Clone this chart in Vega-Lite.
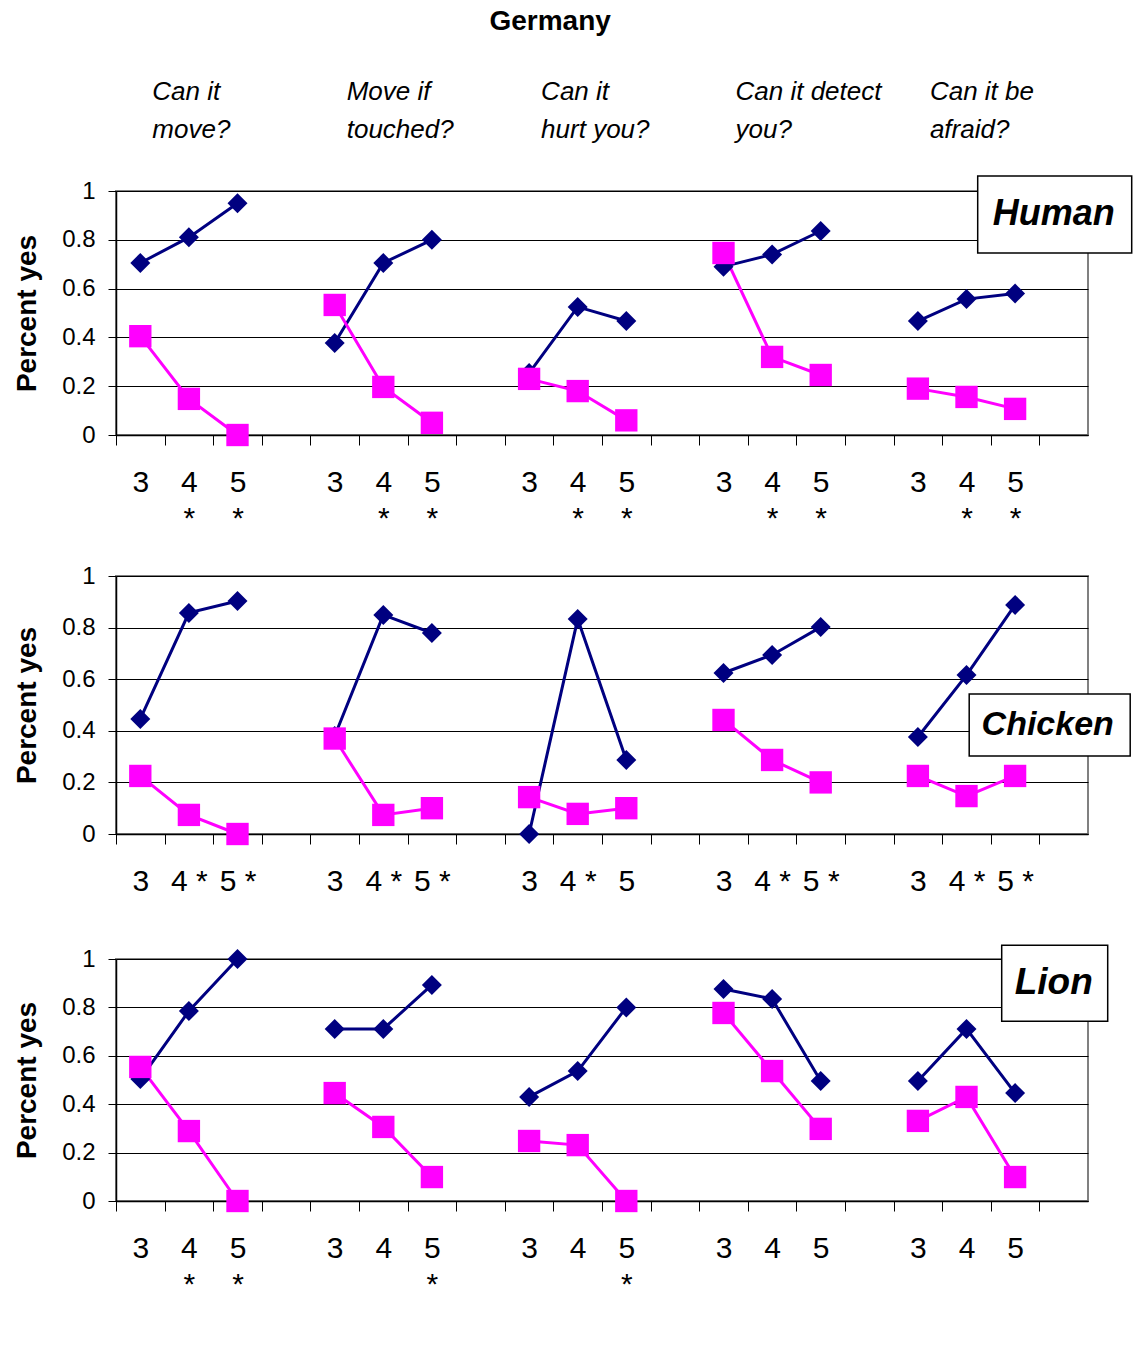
{
  "$schema": "https://vega.github.io/schema/vega-lite/v6.json",
  "padding": {"left": 12, "top": 8, "right": 0, "bottom": 0},
  "title": {"text": "Germany", "fontSize": 28, "font": "Liberation Sans", "fontWeight": "bold", "color": "black", "anchor": "middle", "dx": -24, "offset": 42},
  "bounds": "flush",
  "spacing": 141,
  "config": {
    "font": "Liberation Sans",
    "view": {"stroke": "#808080", "strokeWidth": 2},
    "axisY": {"titleFontSize": 28, "titleFont": "Liberation Sans", "titleFontWeight": "bold", "titleColor": "black", "titlePadding": 20, "labelFontSize": 24, "labelFont": "Liberation Sans", "labelColor": "black", "labelPadding": 13, "tickSize": 8, "tickColor": "black", "domainColor": "black", "domainWidth": 1.5, "gridColor": "black", "gridWidth": 1, "labelFlush": false, "labelOverlap": false},
    "axisX": {"title": null, "labelAngle": 0, "labelFontSize": 30, "labelFont": "Liberation Sans", "labelColor": "black", "labelPadding": 22, "labelLineHeight": 36, "tickOffset": -24.3, "labelOffset": 24.3, "tickSize": 10, "tickColor": "black", "domainColor": "black", "domainWidth": 1.5, "grid": false, "labelBaseline": "top", "labelOverlap": false}
  },
  "vconcat": [
    {
      "width": 972,
      "height": 244,
      "data": {"values": [
        {"slot": "1-3", "q": "1", "series": "Asleep", "value": 0.705},
        {"slot": "1-4*", "q": "1", "series": "Asleep", "value": 0.81},
        {"slot": "1-5*", "q": "1", "series": "Asleep", "value": 0.95},
        {"slot": "2-3", "q": "2", "series": "Asleep", "value": 0.377},
        {"slot": "2-4*", "q": "2", "series": "Asleep", "value": 0.705},
        {"slot": "2-5*", "q": "2", "series": "Asleep", "value": 0.80},
        {"slot": "3-3", "q": "3", "series": "Asleep", "value": 0.254},
        {"slot": "3-4*", "q": "3", "series": "Asleep", "value": 0.525},
        {"slot": "3-5*", "q": "3", "series": "Asleep", "value": 0.467},
        {"slot": "4-3", "q": "4", "series": "Asleep", "value": 0.69},
        {"slot": "4-4*", "q": "4", "series": "Asleep", "value": 0.74},
        {"slot": "4-5*", "q": "4", "series": "Asleep", "value": 0.836},
        {"slot": "5-3", "q": "5", "series": "Asleep", "value": 0.467},
        {"slot": "5-4*", "q": "5", "series": "Asleep", "value": 0.557},
        {"slot": "5-5*", "q": "5", "series": "Asleep", "value": 0.58},
        {"slot": "1-3", "q": "1", "series": "Dead", "value": 0.405},
        {"slot": "1-4*", "q": "1", "series": "Dead", "value": 0.148},
        {"slot": "1-5*", "q": "1", "series": "Dead", "value": 0.0},
        {"slot": "2-3", "q": "2", "series": "Dead", "value": 0.533},
        {"slot": "2-4*", "q": "2", "series": "Dead", "value": 0.197},
        {"slot": "2-5*", "q": "2", "series": "Dead", "value": 0.05},
        {"slot": "3-3", "q": "3", "series": "Dead", "value": 0.23},
        {"slot": "3-4*", "q": "3", "series": "Dead", "value": 0.18},
        {"slot": "3-5*", "q": "3", "series": "Dead", "value": 0.06},
        {"slot": "4-3", "q": "4", "series": "Dead", "value": 0.746},
        {"slot": "4-4*", "q": "4", "series": "Dead", "value": 0.32},
        {"slot": "4-5*", "q": "4", "series": "Dead", "value": 0.246},
        {"slot": "5-3", "q": "5", "series": "Dead", "value": 0.19},
        {"slot": "5-4*", "q": "5", "series": "Dead", "value": 0.156},
        {"slot": "5-5*", "q": "5", "series": "Dead", "value": 0.107}
      ]},
      "layer": [
        {
          "mark": {"type": "line", "strokeWidth": 3},
          "encoding": {
            "x": {"field": "slot", "type": "nominal", "scale": {"domain": ["1-3","1-4*","1-5*","1-","2-3","2-4*","2-5*","2-","3-3","3-4*","3-5*","3-","4-3","4-4*","4-5*","4-","5-3","5-4*","5-5*","5-"], "paddingInner": 0, "paddingOuter": 0}, "axis": {"labelExpr": "length(datum.value) < 3 ? '' : (length(datum.value) > 3 ? [slice(datum.value, 2, 3), '*'] : slice(datum.value, 2))"}},
            "y": {"field": "value", "type": "quantitative", "scale": {"domain": [0, 1]}, "axis": {"values": [0, 0.2, 0.4, 0.6, 0.8, 1], "format": "~g", "title": "Percent yes"}},
            "color": {"field": "series", "type": "nominal", "scale": {"domain": ["Asleep", "Dead"], "range": ["#000080", "#FF00FF"]}, "legend": null},
            "detail": {"field": "q"}
          }
        },
        {
          "mark": {"type": "point", "filled": true, "opacity": 1},
          "encoding": {
            "x": {"field": "slot", "type": "nominal", "scale": {"domain": ["1-3","1-4*","1-5*","1-","2-3","2-4*","2-5*","2-","3-3","3-4*","3-5*","3-","4-3","4-4*","4-5*","4-","5-3","5-4*","5-5*","5-"], "paddingInner": 0, "paddingOuter": 0}},
            "y": {"field": "value", "type": "quantitative", "scale": {"domain": [0, 1]}},
            "color": {"field": "series", "type": "nominal", "scale": {"domain": ["Asleep", "Dead"], "range": ["#000080", "#FF00FF"]}, "legend": {"orient": "none", "legendX": 534, "legendY": 1116, "direction": "horizontal", "title": null, "strokeColor": "black", "padding": 10, "symbolSize": 400, "symbolStrokeWidth": 3, "labelFontSize": 34, "labelFont": "Liberation Sans", "labelColor": "black", "symbolOffset": 48, "labelOffset": 32, "columnPadding": 50, "encode": {"symbols": {"update": {"shape": {"signal": "datum.value === 'Asleep' ? 'M-3.1,0H3.1M0,-1L1,0L0,1L-1,0Z' : 'M-3.1,0H3.1M-0.9,-0.9H0.9V0.9H-0.9Z'"}, "stroke": {"signal": "datum.value === 'Asleep' ? '#000080' : '#FF00FF'"}, "fill": {"signal": "datum.value === 'Asleep' ? '#000080' : '#FF00FF'"}, "strokeWidth": {"value": 3}, "opacity": {"value": 1}}}}}},
            "shape": {"field": "series", "type": "nominal", "scale": {"domain": ["Asleep", "Dead"], "range": ["diamond", "square"]}, "legend": {"orient": "none", "legendX": 534, "legendY": 1116, "direction": "horizontal", "title": null, "strokeColor": "black", "padding": 10, "symbolSize": 400, "symbolStrokeWidth": 3, "labelFontSize": 34, "labelFont": "Liberation Sans", "labelColor": "black", "symbolOffset": 48, "labelOffset": 32, "columnPadding": 50, "encode": {"symbols": {"update": {"shape": {"signal": "datum.value === 'Asleep' ? 'M-3.1,0H3.1M0,-1L1,0L0,1L-1,0Z' : 'M-3.1,0H3.1M-0.9,-0.9H0.9V0.9H-0.9Z'"}, "stroke": {"signal": "datum.value === 'Asleep' ? '#000080' : '#FF00FF'"}, "fill": {"signal": "datum.value === 'Asleep' ? '#000080' : '#FF00FF'"}, "strokeWidth": {"value": 3}, "opacity": {"value": 1}}}}}},
            "size": {"field": "series", "type": "ordinal", "scale": {"domain": ["Asleep", "Dead"], "range": [400, 500]}, "legend": null}
          }
        },
        {
          "data": {"values": [
            {"slot": "1-3", "question": "Can it\nmove?"},
            {"slot": "2-3", "question": "Move if\ntouched?"},
            {"slot": "3-3", "question": "Can it\nhurt you?"},
            {"slot": "4-3", "question": "Can it detect\nyou?"},
            {"slot": "5-3", "question": "Can it be\nafraid?"}
          ]},
          "mark": {"type": "text", "align": "left", "baseline": "middle", "dx": 12, "fontSize": 26, "font": "Liberation Sans", "fontStyle": "italic", "lineBreak": "\n", "lineHeight": 38, "color": "black"},
          "encoding": {
            "x": {"field": "slot", "type": "nominal", "scale": {"domain": ["1-3","1-4*","1-5*","1-","2-3","2-4*","2-5*","2-","3-3","3-4*","3-5*","3-","4-3","4-4*","4-5*","4-","5-3","5-4*","5-5*","5-"], "paddingInner": 0, "paddingOuter": 0}},
            "y": {"datum": 1.404, "type": "quantitative", "scale": {"domain": [0, 1]}},
            "text": {"field": "question", "type": "nominal"}
          }
        },
        {
          "data": {"values": [{"animal": "Human", "slot": "5-"}]},
          "mark": {"type": "point", "shape": "M-1,-0.5H1V0.5H-1Z", "size": 23716, "filled": true, "fill": "white", "stroke": "black", "strokeWidth": 1.5, "opacity": 1, "xOffset": -9},
          "encoding": {
            "x": {"field": "slot", "type": "nominal", "scale": {"domain": ["1-3","1-4*","1-5*","1-","2-3","2-4*","2-5*","2-","3-3","3-4*","3-5*","3-","4-3","4-4*","4-5*","4-","5-3","5-4*","5-5*","5-"], "paddingInner": 0, "paddingOuter": 0}},
            "y": {"datum": 0.904, "type": "quantitative", "scale": {"domain": [0, 1]}}
          }
        },
        {
          "data": {"values": [{"animal": "Human", "slot": "5-"}]},
          "mark": {"type": "text", "fontSize": 36, "fontWeight": "bold", "fontStyle": "italic", "dx": -10, "baseline": "middle", "align": "center", "color": "black"},
          "encoding": {
            "x": {"field": "slot", "type": "nominal", "scale": {"domain": ["1-3","1-4*","1-5*","1-","2-3","2-4*","2-5*","2-","3-3","3-4*","3-5*","3-","4-3","4-4*","4-5*","4-","5-3","5-4*","5-5*","5-"], "paddingInner": 0, "paddingOuter": 0}},
            "y": {"datum": 0.904, "type": "quantitative", "scale": {"domain": [0, 1]}},
            "text": {"field": "animal", "type": "nominal"}
          }
        }
      ]
    },
    {
      "bounds": "flush",
      "spacing": 125,
      "vconcat": [
        {
          "width": 972,
          "height": 258,
          "data": {"values": [
            {"slot": "1-3", "q": "1", "series": "Asleep", "value": 0.446},
            {"slot": "1-4*", "q": "1", "series": "Asleep", "value": 0.857},
            {"slot": "1-5*", "q": "1", "series": "Asleep", "value": 0.903},
            {"slot": "2-3", "q": "2", "series": "Asleep", "value": 0.38},
            {"slot": "2-4*", "q": "2", "series": "Asleep", "value": 0.849},
            {"slot": "2-5*", "q": "2", "series": "Asleep", "value": 0.779},
            {"slot": "3-3", "q": "3", "series": "Asleep", "value": 0.0},
            {"slot": "3-4*", "q": "3", "series": "Asleep", "value": 0.833},
            {"slot": "3-5", "q": "3", "series": "Asleep", "value": 0.287},
            {"slot": "4-3", "q": "4", "series": "Asleep", "value": 0.624},
            {"slot": "4-4*", "q": "4", "series": "Asleep", "value": 0.694},
            {"slot": "4-5*", "q": "4", "series": "Asleep", "value": 0.802},
            {"slot": "5-3", "q": "5", "series": "Asleep", "value": 0.376},
            {"slot": "5-4*", "q": "5", "series": "Asleep", "value": 0.616},
            {"slot": "5-5*", "q": "5", "series": "Asleep", "value": 0.888},
            {"slot": "1-3", "q": "1", "series": "Dead", "value": 0.225},
            {"slot": "1-4*", "q": "1", "series": "Dead", "value": 0.074},
            {"slot": "1-5*", "q": "1", "series": "Dead", "value": 0.0},
            {"slot": "2-3", "q": "2", "series": "Dead", "value": 0.37},
            {"slot": "2-4*", "q": "2", "series": "Dead", "value": 0.074},
            {"slot": "2-5*", "q": "2", "series": "Dead", "value": 0.10},
            {"slot": "3-3", "q": "3", "series": "Dead", "value": 0.143},
            {"slot": "3-4*", "q": "3", "series": "Dead", "value": 0.078},
            {"slot": "3-5", "q": "3", "series": "Dead", "value": 0.10},
            {"slot": "4-3", "q": "4", "series": "Dead", "value": 0.442},
            {"slot": "4-4*", "q": "4", "series": "Dead", "value": 0.287},
            {"slot": "4-5*", "q": "4", "series": "Dead", "value": 0.20},
            {"slot": "5-3", "q": "5", "series": "Dead", "value": 0.225},
            {"slot": "5-4*", "q": "5", "series": "Dead", "value": 0.147},
            {"slot": "5-5*", "q": "5", "series": "Dead", "value": 0.225}
          ]},
          "layer": [
            {
              "mark": {"type": "line", "strokeWidth": 3},
              "encoding": {
                "x": {"field": "slot", "type": "nominal", "scale": {"domain": ["1-3","1-4*","1-5*","1-","2-3","2-4*","2-5*","2-","3-3","3-4*","3-5","3-","4-3","4-4*","4-5*","4-","5-3","5-4*","5-5*","5-"], "paddingInner": 0, "paddingOuter": 0}, "axis": {"labelExpr": "length(datum.value) < 3 ? '' : (length(datum.value) > 3 ? slice(datum.value, 2, 3) + ' *' : slice(datum.value, 2))"}},
                "y": {"field": "value", "type": "quantitative", "scale": {"domain": [0, 1]}, "axis": {"values": [0, 0.2, 0.4, 0.6, 0.8, 1], "format": "~g", "title": "Percent yes"}},
                "color": {"field": "series", "type": "nominal", "scale": {"domain": ["Asleep", "Dead"], "range": ["#000080", "#FF00FF"]}, "legend": null},
                "detail": {"field": "q"}
              }
            },
            {
              "mark": {"type": "point", "filled": true, "opacity": 1},
              "encoding": {
                "x": {"field": "slot", "type": "nominal", "scale": {"domain": ["1-3","1-4*","1-5*","1-","2-3","2-4*","2-5*","2-","3-3","3-4*","3-5","3-","4-3","4-4*","4-5*","4-","5-3","5-4*","5-5*","5-"], "paddingInner": 0, "paddingOuter": 0}},
                "y": {"field": "value", "type": "quantitative", "scale": {"domain": [0, 1]}},
                "color": {"field": "series", "type": "nominal", "scale": {"domain": ["Asleep", "Dead"], "range": ["#000080", "#FF00FF"]}, "legend": {"orient": "none", "legendX": 534, "legendY": 1116, "direction": "horizontal", "title": null, "strokeColor": "black", "padding": 10, "symbolSize": 400, "symbolStrokeWidth": 3, "labelFontSize": 34, "labelFont": "Liberation Sans", "labelColor": "black", "symbolOffset": 48, "labelOffset": 32, "columnPadding": 50, "encode": {"symbols": {"update": {"shape": {"signal": "datum.value === 'Asleep' ? 'M-3.1,0H3.1M0,-1L1,0L0,1L-1,0Z' : 'M-3.1,0H3.1M-0.9,-0.9H0.9V0.9H-0.9Z'"}, "stroke": {"signal": "datum.value === 'Asleep' ? '#000080' : '#FF00FF'"}, "fill": {"signal": "datum.value === 'Asleep' ? '#000080' : '#FF00FF'"}, "strokeWidth": {"value": 3}, "opacity": {"value": 1}}}}}},
                "shape": {"field": "series", "type": "nominal", "scale": {"domain": ["Asleep", "Dead"], "range": ["diamond", "square"]}, "legend": {"orient": "none", "legendX": 534, "legendY": 1116, "direction": "horizontal", "title": null, "strokeColor": "black", "padding": 10, "symbolSize": 400, "symbolStrokeWidth": 3, "labelFontSize": 34, "labelFont": "Liberation Sans", "labelColor": "black", "symbolOffset": 48, "labelOffset": 32, "columnPadding": 50, "encode": {"symbols": {"update": {"shape": {"signal": "datum.value === 'Asleep' ? 'M-3.1,0H3.1M0,-1L1,0L0,1L-1,0Z' : 'M-3.1,0H3.1M-0.9,-0.9H0.9V0.9H-0.9Z'"}, "stroke": {"signal": "datum.value === 'Asleep' ? '#000080' : '#FF00FF'"}, "fill": {"signal": "datum.value === 'Asleep' ? '#000080' : '#FF00FF'"}, "strokeWidth": {"value": 3}, "opacity": {"value": 1}}}}}},
                "size": {"field": "series", "type": "ordinal", "scale": {"domain": ["Asleep", "Dead"], "range": [400, 500]}, "legend": null}
              }
            },
            {
              "data": {"values": [{"animal": "Chicken", "slot": "5-"}]},
              "mark": {"type": "point", "shape": "M-1,-0.385H1V0.385H-1Z", "size": 25921, "filled": true, "fill": "white", "stroke": "black", "strokeWidth": 1.5, "opacity": 1, "xOffset": -14},
              "encoding": {
                "x": {"field": "slot", "type": "nominal", "scale": {"domain": ["1-3","1-4*","1-5*","1-","2-3","2-4*","2-5*","2-","3-3","3-4*","3-5","3-","4-3","4-4*","4-5*","4-","5-3","5-4*","5-5*","5-"], "paddingInner": 0, "paddingOuter": 0}},
                "y": {"datum": 0.4225, "type": "quantitative", "scale": {"domain": [0, 1]}}
              }
            },
            {
              "data": {"values": [{"animal": "Chicken", "slot": "5-"}]},
              "mark": {"type": "text", "fontSize": 34, "fontWeight": "bold", "fontStyle": "italic", "dx": -16, "baseline": "middle", "align": "center", "color": "black"},
              "encoding": {
                "x": {"field": "slot", "type": "nominal", "scale": {"domain": ["1-3","1-4*","1-5*","1-","2-3","2-4*","2-5*","2-","3-3","3-4*","3-5","3-","4-3","4-4*","4-5*","4-","5-3","5-4*","5-5*","5-"], "paddingInner": 0, "paddingOuter": 0}},
                "y": {"datum": 0.4225, "type": "quantitative", "scale": {"domain": [0, 1]}},
                "text": {"field": "animal", "type": "nominal"}
              }
            }
          ]
        },
        {
          "width": 972,
          "height": 242,
          "data": {"values": [
            {"slot": "1-3", "q": "1", "series": "Asleep", "value": 0.504},
            {"slot": "1-4*", "q": "1", "series": "Asleep", "value": 0.785},
            {"slot": "1-5*", "q": "1", "series": "Asleep", "value": 1.0},
            {"slot": "2-3", "q": "2", "series": "Asleep", "value": 0.711},
            {"slot": "2-4", "q": "2", "series": "Asleep", "value": 0.711},
            {"slot": "2-5*", "q": "2", "series": "Asleep", "value": 0.893},
            {"slot": "3-3", "q": "3", "series": "Asleep", "value": 0.43},
            {"slot": "3-4", "q": "3", "series": "Asleep", "value": 0.537},
            {"slot": "3-5*", "q": "3", "series": "Asleep", "value": 0.80},
            {"slot": "4-3", "q": "4", "series": "Asleep", "value": 0.876},
            {"slot": "4-4", "q": "4", "series": "Asleep", "value": 0.835},
            {"slot": "4-5", "q": "4", "series": "Asleep", "value": 0.496},
            {"slot": "5-3", "q": "5", "series": "Asleep", "value": 0.496},
            {"slot": "5-4", "q": "5", "series": "Asleep", "value": 0.711},
            {"slot": "5-5", "q": "5", "series": "Asleep", "value": 0.446},
            {"slot": "1-3", "q": "1", "series": "Dead", "value": 0.554},
            {"slot": "1-4*", "q": "1", "series": "Dead", "value": 0.289},
            {"slot": "1-5*", "q": "1", "series": "Dead", "value": 0.0},
            {"slot": "2-3", "q": "2", "series": "Dead", "value": 0.446},
            {"slot": "2-4", "q": "2", "series": "Dead", "value": 0.306},
            {"slot": "2-5*", "q": "2", "series": "Dead", "value": 0.099},
            {"slot": "3-3", "q": "3", "series": "Dead", "value": 0.248},
            {"slot": "3-4", "q": "3", "series": "Dead", "value": 0.231},
            {"slot": "3-5*", "q": "3", "series": "Dead", "value": 0.0},
            {"slot": "4-3", "q": "4", "series": "Dead", "value": 0.777},
            {"slot": "4-4", "q": "4", "series": "Dead", "value": 0.537},
            {"slot": "4-5", "q": "4", "series": "Dead", "value": 0.298},
            {"slot": "5-3", "q": "5", "series": "Dead", "value": 0.331},
            {"slot": "5-4", "q": "5", "series": "Dead", "value": 0.43},
            {"slot": "5-5", "q": "5", "series": "Dead", "value": 0.099}
          ]},
          "layer": [
            {
              "mark": {"type": "line", "strokeWidth": 3},
              "encoding": {
                "x": {"field": "slot", "type": "nominal", "scale": {"domain": ["1-3","1-4*","1-5*","1-","2-3","2-4","2-5*","2-","3-3","3-4","3-5*","3-","4-3","4-4","4-5","4-","5-3","5-4","5-5","5-"], "paddingInner": 0, "paddingOuter": 0}, "axis": {"labelExpr": "length(datum.value) < 3 ? '' : (length(datum.value) > 3 ? [slice(datum.value, 2, 3), '*'] : slice(datum.value, 2))"}},
                "y": {"field": "value", "type": "quantitative", "scale": {"domain": [0, 1]}, "axis": {"values": [0, 0.2, 0.4, 0.6, 0.8, 1], "format": "~g", "title": "Percent yes"}},
                "color": {"field": "series", "type": "nominal", "scale": {"domain": ["Asleep", "Dead"], "range": ["#000080", "#FF00FF"]}, "legend": null},
                "detail": {"field": "q"}
              }
            },
            {
              "mark": {"type": "point", "filled": true, "opacity": 1},
              "encoding": {
                "x": {"field": "slot", "type": "nominal", "scale": {"domain": ["1-3","1-4*","1-5*","1-","2-3","2-4","2-5*","2-","3-3","3-4","3-5*","3-","4-3","4-4","4-5","4-","5-3","5-4","5-5","5-"], "paddingInner": 0, "paddingOuter": 0}},
                "y": {"field": "value", "type": "quantitative", "scale": {"domain": [0, 1]}},
                "color": {"field": "series", "type": "nominal", "scale": {"domain": ["Asleep", "Dead"], "range": ["#000080", "#FF00FF"]}, "legend": {"orient": "none", "legendX": 534, "legendY": 1116, "direction": "horizontal", "title": null, "strokeColor": "black", "padding": 10, "symbolSize": 400, "symbolStrokeWidth": 3, "labelFontSize": 34, "labelFont": "Liberation Sans", "labelColor": "black", "symbolOffset": 48, "labelOffset": 32, "columnPadding": 50, "encode": {"symbols": {"update": {"shape": {"signal": "datum.value === 'Asleep' ? 'M-3.1,0H3.1M0,-1L1,0L0,1L-1,0Z' : 'M-3.1,0H3.1M-0.9,-0.9H0.9V0.9H-0.9Z'"}, "stroke": {"signal": "datum.value === 'Asleep' ? '#000080' : '#FF00FF'"}, "fill": {"signal": "datum.value === 'Asleep' ? '#000080' : '#FF00FF'"}, "strokeWidth": {"value": 3}, "opacity": {"value": 1}}}}}},
                "shape": {"field": "series", "type": "nominal", "scale": {"domain": ["Asleep", "Dead"], "range": ["diamond", "square"]}, "legend": {"orient": "none", "legendX": 534, "legendY": 1116, "direction": "horizontal", "title": null, "strokeColor": "black", "padding": 10, "symbolSize": 400, "symbolStrokeWidth": 3, "labelFontSize": 34, "labelFont": "Liberation Sans", "labelColor": "black", "symbolOffset": 48, "labelOffset": 32, "columnPadding": 50, "encode": {"symbols": {"update": {"shape": {"signal": "datum.value === 'Asleep' ? 'M-3.1,0H3.1M0,-1L1,0L0,1L-1,0Z' : 'M-3.1,0H3.1M-0.9,-0.9H0.9V0.9H-0.9Z'"}, "stroke": {"signal": "datum.value === 'Asleep' ? '#000080' : '#FF00FF'"}, "fill": {"signal": "datum.value === 'Asleep' ? '#000080' : '#FF00FF'"}, "strokeWidth": {"value": 3}, "opacity": {"value": 1}}}}}},
                "size": {"field": "series", "type": "ordinal", "scale": {"domain": ["Asleep", "Dead"], "range": [400, 500]}, "legend": null}
              }
            },
            {
              "data": {"values": [{"animal": "Lion", "slot": "5-"}]},
              "mark": {"type": "point", "shape": "M-1,-0.717H1V0.717H-1Z", "size": 11236, "filled": true, "fill": "white", "stroke": "black", "strokeWidth": 1.5, "opacity": 1, "xOffset": -9},
              "encoding": {
                "x": {"field": "slot", "type": "nominal", "scale": {"domain": ["1-3","1-4*","1-5*","1-","2-3","2-4","2-5*","2-","3-3","3-4","3-5*","3-","4-3","4-4","4-5","4-","5-3","5-4","5-5","5-"], "paddingInner": 0, "paddingOuter": 0}},
                "y": {"datum": 0.90, "type": "quantitative", "scale": {"domain": [0, 1]}}
              }
            },
            {
              "data": {"values": [{"animal": "Lion", "slot": "5-"}]},
              "mark": {"type": "text", "fontSize": 37, "fontWeight": "bold", "fontStyle": "italic", "dx": -10, "baseline": "middle", "align": "center", "color": "black"},
              "encoding": {
                "x": {"field": "slot", "type": "nominal", "scale": {"domain": ["1-3","1-4*","1-5*","1-","2-3","2-4","2-5*","2-","3-3","3-4","3-5*","3-","4-3","4-4","4-5","4-","5-3","5-4","5-5","5-"], "paddingInner": 0, "paddingOuter": 0}},
                "y": {"datum": 0.90, "type": "quantitative", "scale": {"domain": [0, 1]}},
                "text": {"field": "animal", "type": "nominal"}
              }
            }
          ]
        }
      ]
    }
  ]
}
